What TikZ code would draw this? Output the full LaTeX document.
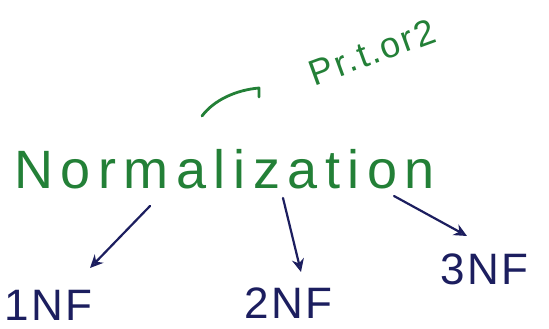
\documentclass[tikz,border=0pt]{standalone}
\usepackage{fontspec}
\setmainfont{Liberation Sans}
\usetikzlibrary{arrows.meta}
\definecolor{inkgreen}{RGB}{35,128,55}
\definecolor{inkblue}{RGB}{28,30,95}
\begin{document}
\begin{tikzpicture}[x=1pt,y=-1pt,
  title/.style={text=inkgreen, font=\fontsize{54}{54}\selectfont\addfontfeatures{LetterSpace=14}, inner sep=0pt, anchor=base west},
  note/.style={text=inkgreen, font=\fontsize{36}{36}\selectfont\addfontfeatures{LetterSpace=6}, inner sep=0pt},
  nf/.style={text=inkblue, font=\fontsize{44}{44}\selectfont\addfontfeatures{LetterSpace=6}, inner sep=0pt, anchor=base west},
  arr/.style={draw=inkblue, line width=2.2pt, line cap=round, -{Stealth[length=13pt,width=12pt,open]}},
  stroke/.style={draw=inkgreen, line width=2.8pt, line cap=round, line join=round}]
  \fill[white] (0,0) rectangle (549,329);
  \useasboundingbox (0,0) rectangle (549,329);

  % heading and side note
  \node[title] (norm) at (14,188) {Normalization};
  \node[note, rotate=20] (note) at (372,52) {Pr.t.or2};
  \draw[stroke] (202,116) .. controls (214,100) and (236,90) .. (259,88) -- (259,97);

  % normal forms
  \node[nf] (n1) at (4,320) {1NF};
  \node[nf] (n2) at (244,318) {2NF};
  \node[nf] (n3) at (440,284) {3NF};

  % connectors from the heading to each normal form
  \coordinate (s1) at (150,206);
  \coordinate (e1) at (90,268);
  \coordinate (s2) at (283,198);
  \coordinate (e2) at (301,272);
  \coordinate (s3) at (394,196);
  \coordinate (e3) at (467,236);
  \draw[arr] (s1) -- (e1);
  \draw[arr] (s2) -- (e2);
  \draw[arr] (s3) -- (e3);
\end{tikzpicture}
\end{document}
